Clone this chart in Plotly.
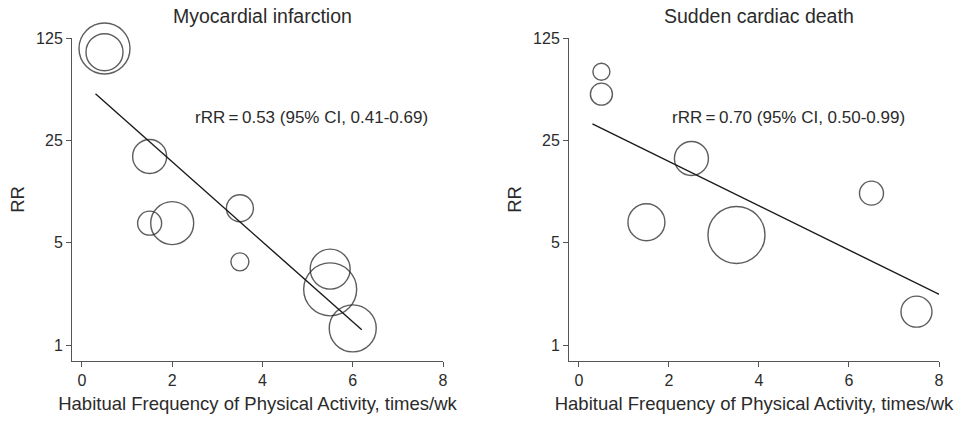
import plotly.graph_objects as go
from plotly.subplots import make_subplots

# ---- Data ----
mi_freq = [0.5, 0.5, 1.5, 1.5, 2.0, 3.5, 3.5, 5.5, 5.5, 6.0]
mi_rr = [106, 100, 19.4, 6.8, 6.8, 8.6, 3.7, 3.3, 2.4, 1.3]
mi_weight = [51, 37, 34, 24, 43, 27, 18, 40, 53, 47]
mi_fit_x = [0.3, 6.2]
mi_fit_rr = [52, 1.27]
mi_label = "rRR\u2009=\u20090.53 (95% CI, 0.41-0.69)"

scd_freq = [0.5, 0.5, 2.5, 1.5, 3.5, 6.5, 7.5]
scd_rr = [73.5, 51.7, 18.8, 6.9, 5.65, 10.9, 1.69]
scd_weight = [17, 22, 34, 37, 57, 24, 31]
scd_fit_x = [0.3, 8.23]
scd_fit_rr = [32.4, 2.05]
scd_label = "rRR\u2009=\u20090.70 (95% CI, 0.50-0.99)"

titles = ["Myocardial infarction", "Sudden cardiac death"]
x_ticks = [0, 2, 4, 6, 8]
y_ticks = [1, 5, 25, 125]
x_title = "Habitual Frequency of Physical Activity, times/wk"
y_title = "RR"

FONT = "Liberation Sans, Arial, sans-serif"
TXT = "#2b2b2b"
AX = "#555555"

fig = make_subplots(rows=1, cols=2, horizontal_spacing=0.1455)

panels = [
    (mi_freq, mi_rr, mi_weight, mi_fit_x, mi_fit_rr),
    (scd_freq, scd_rr, scd_weight, scd_fit_x, scd_fit_rr),
]

for i, (fx, fy, fw, lx, ly) in enumerate(panels, start=1):
    fig.add_trace(go.Scatter(
        x=fx, y=fy, mode="markers", cliponaxis=False,
        marker=dict(size=fw, sizemode="diameter", color="rgba(0,0,0,0)",
                    line=dict(color="#1a1a1a", width=1.4)),
        showlegend=False, hoverinfo="x+y"), row=1, col=i)
    fig.add_trace(go.Scatter(
        x=lx, y=ly, mode="lines", cliponaxis=False,
        line=dict(color="#1a1a1a", width=1.4),
        showlegend=False, hoverinfo="skip"), row=1, col=i)

# Layout (page body margin removed via post_script)
W, H = 966, 422
plot_l, plot_r = 72, W - 939
plot_t, plot_b = 38, H - 361
pw = W - plot_l - plot_r
d1 = [0, (443 - 72) / pw]
d2 = [(569 - 72) / pw, 1]

axis_common = dict(
    showgrid=False, zeroline=False, showline=True, linecolor=AX, linewidth=1,
    ticks="outside", ticklen=5, tickcolor=AX, tickwidth=1, automargin=False,
    tickfont=dict(family=FONT, size=16, color=TXT),
)

fig.update_layout(
    width=W, height=H,
    margin=dict(l=plot_l, r=plot_r, t=plot_t, b=plot_b, autoexpand=False),
    paper_bgcolor="white", plot_bgcolor="white",
    font=dict(family=FONT, color=TXT),
)

for i, dom in enumerate([d1, d2], start=1):
    xa = "xaxis" if i == 1 else "xaxis2"
    ya = "yaxis" if i == 1 else "yaxis2"
    fig.layout[xa].update(
        domain=dom, range=[-0.22, 8], tickvals=x_ticks,
        title=dict(text=x_title, font=dict(family=FONT, size=18.5, color=TXT), standoff=8),
        **axis_common)
    fig.layout[ya].update(
        domain=[0, 1], type="log", range=[-0.109, 2.097], tickvals=y_ticks,
        ticktext=[str(v) for v in y_ticks],
        title=dict(text=y_title, font=dict(family=FONT, size=18.5, color=TXT), standoff=6),
        **axis_common)

annos = []
for t, dom in zip(titles, [d1, d2]):
    annos.append(dict(
        text=t, xref="paper", yref="paper",
        x=(dom[0] + dom[1]) / 2, y=1, xshift=5, yshift=22,
        xanchor="center", yanchor="middle",
        showarrow=False, font=dict(family=FONT, size=19.5, color=TXT)))

annos.append(dict(text=mi_label, xref="x", yref="y", x=2.46, y=1.557,
                  xanchor="left", yanchor="middle", showarrow=False,
                  font=dict(family=FONT, size=17, color=TXT)))
annos.append(dict(text=scd_label, xref="x2", yref="y2", x=2.02, y=1.557,
                  xanchor="left", yanchor="middle", showarrow=False,
                  font=dict(family=FONT, size=17, color=TXT)))
fig.update_layout(annotations=annos)

fig.write_html("out.html",
               config={"displayModeBar": False},
               post_script="document.body.style.margin='0';document.body.style.overflow='hidden';")
